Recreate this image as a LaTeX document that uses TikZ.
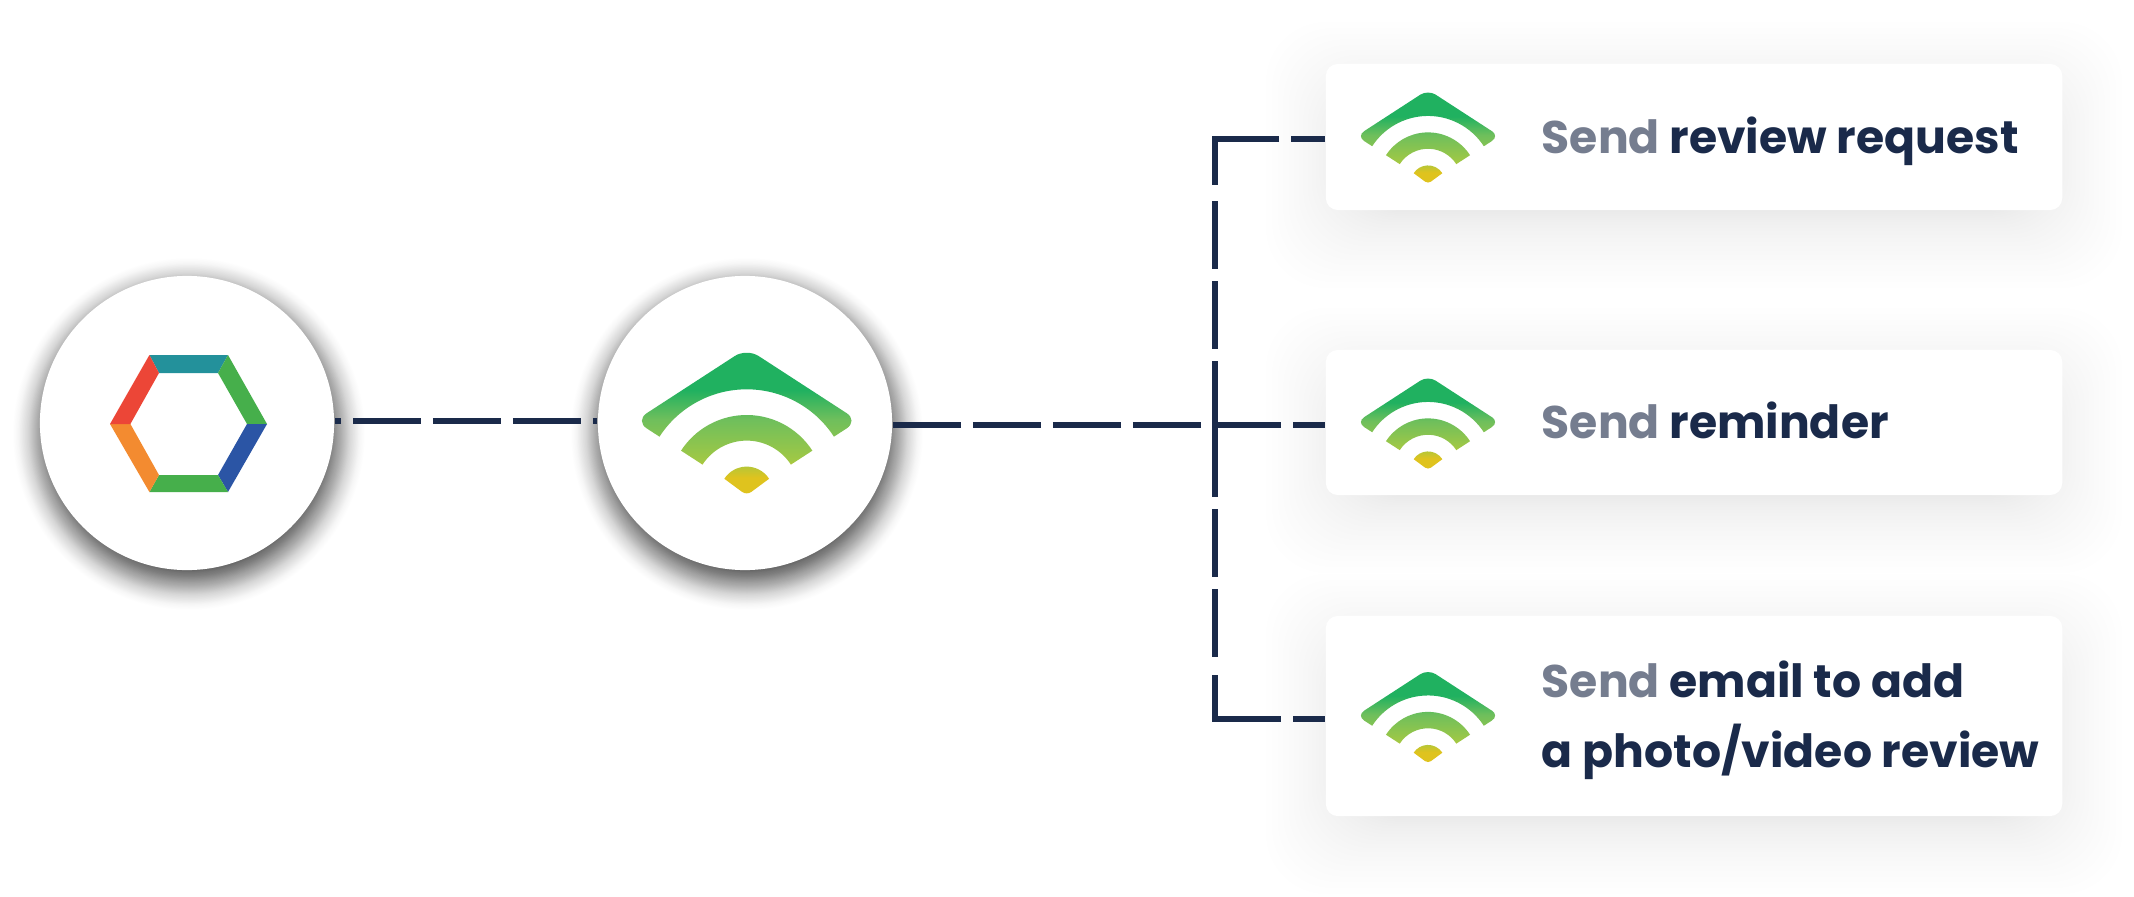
\documentclass[tikz,border=0pt]{standalone}
\usepackage{fontspec}
\setmainfont{Poppins}
\definecolor{dnavy}{HTML}{1A2A4A}
\definecolor{dgrey}{HTML}{757D8F}
\definecolor{hexteal}{HTML}{23919B}
\definecolor{hexgreen}{HTML}{46AF4B}
\definecolor{hexblue}{HTML}{2B55A5}
\definecolor{hexorange}{HTML}{F38B30}
\definecolor{hexred}{HTML}{EC4637}
\definecolor{wifia}{HTML}{20B160}
\definecolor{wifib}{HTML}{6FBF5C}
\definecolor{wific}{HTML}{A0C845}
\definecolor{wifid}{HTML}{DFC31E}
\pgfdeclareverticalshading{wifishade}{100bp}{color(0bp)=(wifid); color(31bp)=(wifid); color(37bp)=(wific); color(50.8bp)=(wifib); color(60.8bp)=(wifia); color(100bp)=(wifia)}
\tikzset{
  circ/.style={circle, fill=white, minimum size=2.94cm, inner sep=0},
  card/.style={rectangle, fill=white, rounded corners=0.12cm, minimum width=7.36cm, inner sep=0},
  cardtext/.style={anchor=base west, inner sep=0, align=left, text=dnavy, font=\fontsize{13}{19.9}\selectfont\bfseries},
  link/.style={dnavy, line width=0.06cm, dash pattern=on 0.68cm off 0.12cm},
  wifi/.pic={
    \shade[shading=wifishade]
      (147:104) [rounded corners=#1] -- (-111.7,72.5) -- (0,145) -- (111.7,72.5) [sharp corners] -- (33:104) arc (33:147:104) -- cycle
      (33:78.3) arc (33:147:78.3) -- (147:52.7) arc (147:33:52.7) -- cycle
      (147:26.7) [rounded corners=0.4*#1] -- (0,-2) [sharp corners] -- (33:26.7) arc (33:147:26.7) -- cycle;
  }
}
\newcommand{\circshadow}[2]{
  \foreach \i in {0,...,63} {
    \pgfmathsetmacro{\rad}{176-40*\i/64}
    \pgfmathsetmacro{\alp}{0.004+0.015*\i/64}
    \fill[black,opacity=\alp] (#1+2,#2-11) circle (\rad);
  }
}
\newcommand{\cardshadow}[4]{
  \foreach \i in {0,...,25} {
    \pgfmathsetmacro{\d}{-20+80*(1-\i/26)^2}
    \fill[black,opacity=0.004,rounded corners=0.6cm] (#1-\d,#2-\d-18) rectangle (#3+\d,#4+\d-18);
  }
}
\begin{document}
\begin{tikzpicture}[x=0.01cm,y=0.01cm]
\fill[white] (0,0) rectangle (2134,896);
\useasboundingbox (0,0) rectangle (2134,896);
% shadows
\circshadow{187}{473}
\circshadow{745}{473}
\cardshadow{1326}{686}{2062}{832}
\cardshadow{1326}{401}{2062}{546}
\cardshadow{1326}{80}{2062}{280}
% connector heights
\coordinate (lineA) at (187,475);
\coordinate (jA) at (1215,757);
\coordinate (jM) at (1215,471);
\coordinate (jC) at (1215,177);
% nodes
\node[circ] (hub) at (187,473) {};
\node[circ] (wifinode) at (745,473) {};
\node[card, minimum height=1.46cm] (cardA) at (1694,759) {};
\node[card, minimum height=1.45cm] (cardB) at (1694,473.5) {};
\node[card, minimum height=2.00cm] (cardC) at (1694,180) {};
% connectors
\draw[link, dash phase=0.62cm] (hub.east |- lineA) -- (wifinode.west |- lineA);
\draw[link] (wifinode.east |- jM) -- (jM -| cardB.west);
\draw[link, dash pattern=on 0.34cm off 0.12cm on 1.10cm off 0.16cm on 0.68cm off 0.12cm on 0.68cm off 0.12cm on 1.36cm off 0.12cm on 0.68cm off 0.12cm on 0.68cm off 0.18cm on 1.10cm off 0.12cm on 0.34cm off 1cm]
  (jA -| cardA.west) -- (jA) -- (jC) -- (jC -| cardC.west);
% hexagon
\coordinate (oa) at (149.4,541); \coordinate (ob) at (228,541); \coordinate (oc) at (267,472);
\coordinate (od) at (228,404); \coordinate (oe) at (149.4,404); \coordinate (of) at (110,472);
\coordinate (ia) at (159,523); \coordinate (ib) at (218,523); \coordinate (ic) at (247,472);
\coordinate (id) at (218,421); \coordinate (ie) at (159,421); \coordinate (if) at (130.4,472);
\foreach \p/\q/\col in {a/b/hexteal, b/c/hexgreen, c/d/hexblue, d/e/hexgreen, e/f/hexorange, f/a/hexred}
  \fill[\col] (o\p) -- (o\q) -- (i\q) -- (i\p) -- cycle;
% wifi marks
\pic at (746.7,402.7) {wifi=0.14cm};
\pic[scale=0.64] at (1428,713.5) {wifi=0.09cm};
\pic[scale=0.64] at (1428,427.5) {wifi=0.09cm};
\pic[scale=0.64] at (1428,134) {wifi=0.09cm};
% labels
\node[cardtext] (txtA) at (1541,743) {\textcolor{dgrey}{Send} review request};
\node[cardtext] (txtB) at (1541,458) {\textcolor{dgrey}{Send} reminder};
\node[cardtext] (txtC) at (1541,129) {\textcolor{dgrey}{Send} email to add\\a photo/video review};
\end{tikzpicture}
\end{document}
